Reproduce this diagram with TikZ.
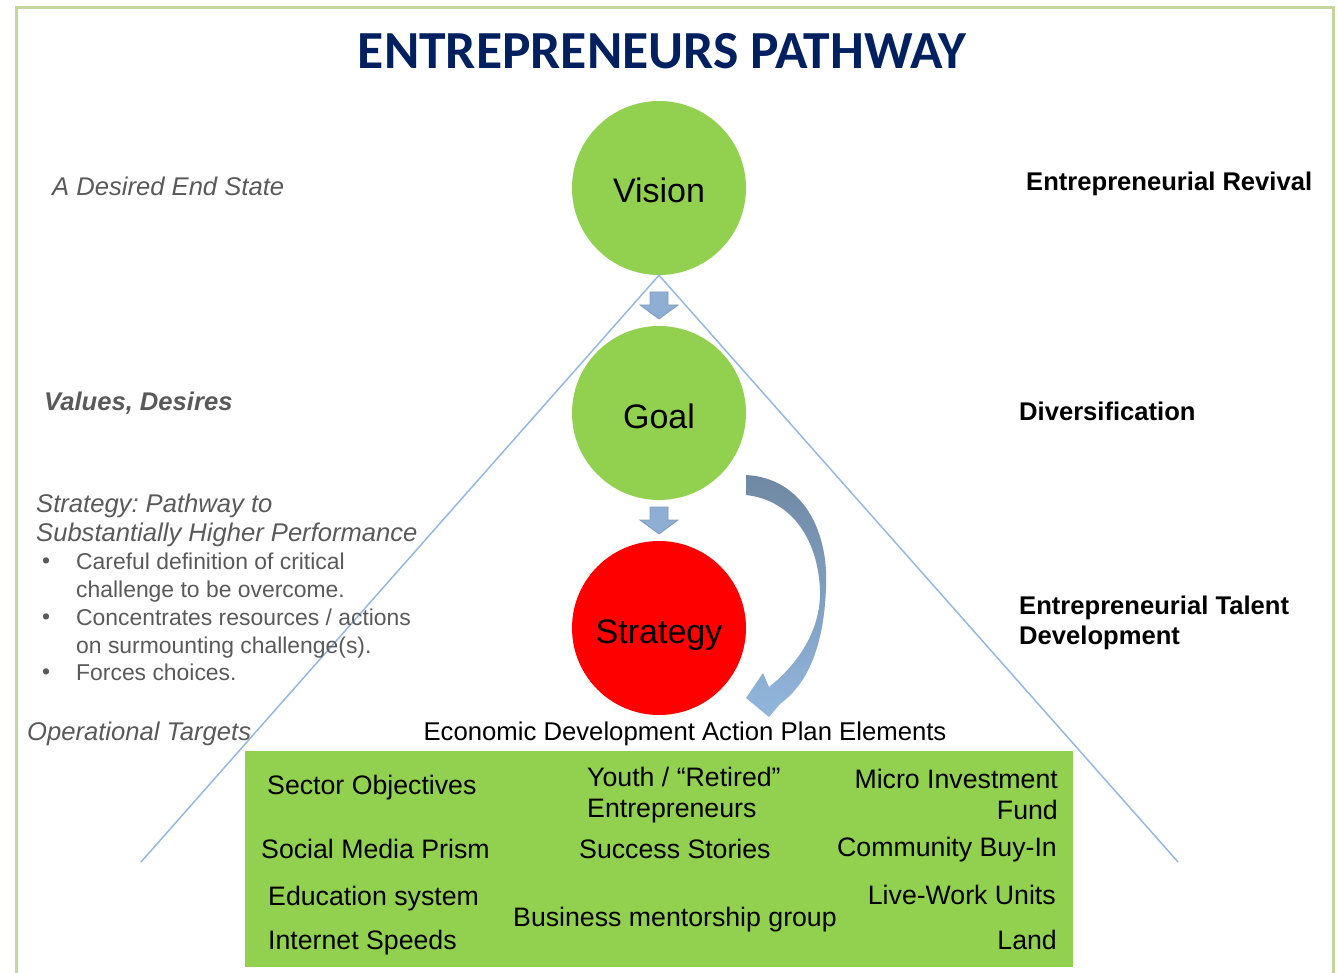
\documentclass[tikz,border=0pt]{standalone}
\usepackage{fontspec}
\setmainfont{Liberation Sans}
\newfontfamily\titlefont{Carlito}
\frenchspacing
\definecolor{leaf}{HTML}{92D050}
\definecolor{navy}{HTML}{002060}
\definecolor{rim}{HTML}{C3D69B}
\definecolor{skyline}{HTML}{95B8E0}
\definecolor{blockblue}{HTML}{8EAED3}
\definecolor{blockedge}{HTML}{7F9CBF}
\definecolor{curvetop}{HTML}{6F88A3}
\definecolor{curvebot}{HTML}{92B6DD}
\definecolor{side}{HTML}{595959}

\tikzset{
  drop/.pic={
    \draw[blockedge,fill=blockblue,line width=0.8]
      (-9,-14) -- (9,-14) -- (9,-1) -- (19,-1) -- (0,13) -- (-19,-1) -- (-9,-1) -- cycle;
  }
}

\begin{document}
\begin{tikzpicture}[x=1pt,y=-1pt,
  every node/.style={inner sep=0pt},
  stage/.style={circle,minimum size=174pt,text height=30pt,text depth=0pt,font=\fontsize{34}{40}\selectfont},
  aside/.style={anchor=west,text=side,font=\fontsize{25.6}{29}\selectfont\itshape},
  bullet/.style={anchor=west,text=side,align=left,font=\fontsize{22.9}{28}\selectfont},
  target/.style={anchor=west,align=left,font=\fontsize{25.6}{30}\selectfont\bfseries},
  element/.style={font=\fontsize{26.7}{31}\selectfont}]
\useasboundingbox (0,0) rectangle (1338,973);
\draw[rim,line width=3] (16,980) -- (16,8) -- (1333,8) -- (1333,980);

\node (title) at (662,51) {\titlefont\bfseries\fontsize{53.6}{60}\selectfont\color{navy}ENTREPRENEURS PATHWAY};

% the three stages
\node (vision) [stage,fill=leaf] at (659,188) {Vision};
\node (goal) [stage,fill=leaf] at (659,413) {Goal};
\node (strategy) [stage,fill=red] at (659,628) {Strategy};

\coordinate (lbase) at (141,862);
\coordinate (rbase) at (1178,862);
\draw[skyline,line width=1.5] (lbase) -- (vision.south) -- (rbase);

\pic at (659,306) {drop};
\pic at (659,521) {drop};

% feedback arrow from goal round to strategy
\shade[top color=curvetop,bottom color=curvebot]
  (746,475) .. controls (802,478) and (829,530) .. (826,588)
  .. controls (824,642) and (810,682) .. (780,704)
  -- (769,717) -- (746,698) -- (763,673) -- (769,687)
  .. controls (803,660) and (821,625) .. (820,590)
  .. controls (818,540) and (792,500) .. (746,495) -- cycle;

% left column
\node (endstate) [aside] at (52,186) {A Desired End State};
\node (values) [aside,font=\fontsize{25.6}{29}\selectfont\bfseries\itshape] at (44,403) {Values, Desires};
\node (pathway) [aside,align=left] at (36,520.5) {Strategy: Pathway to\\Substantially Higher Performance};
\node (b1) [bullet] at (76,578) {Careful definition of critical\\challenge to be overcome.};
\node (b2) [bullet] at (76,634) {Concentrates resources / actions\\on surmounting challenge(s).};
\node (b3) [bullet] at (76,672) {Forces choices.};
\foreach \y in {563,619,674} \node[bullet] at (42,\y) {\textbullet};
\node (optargets) [aside] at (27,734) {Operational Targets};

% right column
\node (revival) [target] at (1026,184) {Entrepreneurial Revival};
\node (divers) [target] at (1019,411) {Diversification};
\node (talent) [target] at (1019,623) {Entrepreneurial Talent\\Development};

% action plan elements
\node (planhead) [font=\fontsize{25.7}{30}\selectfont] at (685,734) {Economic Development Action Plan Elements};
\node (plan) [fill=leaf,minimum width=828,minimum height=216] at (659,859) {};
\node (sector) [element,anchor=west] at (267,788) {Sector Objectives};
\node (youth) [element,anchor=west,align=left] at (587,795.5) {Youth / “Retired”\\Entrepreneurs};
\node (micro) [element,anchor=east,align=right] at (1058,794.5) {Micro Investment\\Fund};
\node (social) [element,anchor=west] at (261,849) {Social Media Prism};
\node (success) [element,anchor=west] at (579,849) {Success Stories};
\node (buyin) [element,anchor=east] at (1057,850) {Community Buy-In};
\node (educ) [element,anchor=west] at (268,899) {Education system};
\node (mentor) [element,anchor=west] at (513,920) {Business mentorship group};
\node (livework) [element,anchor=east] at (1056,895) {Live-Work Units};
\node (internet) [element,anchor=west] at (268,943) {Internet Speeds};
\node (land) [element,anchor=east] at (1057,940) {Land};
\end{tikzpicture}
\end{document}
